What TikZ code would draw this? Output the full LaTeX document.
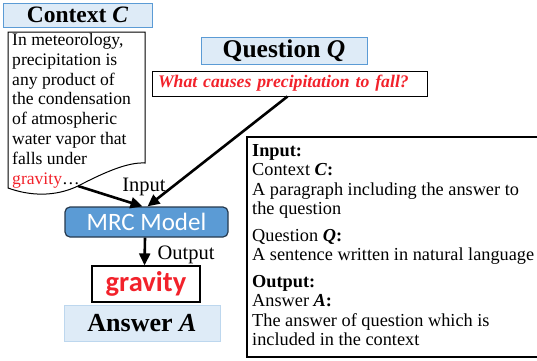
\documentclass[tikz,border=0pt]{standalone}
\usepackage{fontspec}
\setmainfont{Liberation Serif}
\newfontfamily\calibri{Carlito}
\usepackage{xcolor}
\usetikzlibrary{calc, positioning, arrows.meta}
\definecolor{PaleBlue}{HTML}{DEEBF7}
\definecolor{EdgeBlue}{HTML}{5B9BD5}
\definecolor{SoftEdge}{HTML}{BDD7EE}
\definecolor{ModelBlue}{HTML}{5B9BD5}
\definecolor{ModelEdge}{HTML}{26394D}
\definecolor{HotRed}{HTML}{F2222B}

\begin{document}
\begin{tikzpicture}[x=1pt, y=-1pt,
      title/.style={draw=EdgeBlue, fill=PaleBlue, line width=0.9pt, inner sep=0pt,
                    font=\fontsize{23.5}{25}\selectfont\bfseries},
      flow/.style={-{Triangle[length=12pt, width=11pt]}, line width=2.6pt, black},
      lbl/.style={font=\fontsize{20.5}{22}\selectfont, inner sep=0pt}]
      \useasboundingbox (0,0) rectangle (537,360);
      % Context
      \node[title, minimum width=149, minimum height=24] (ctxtitle) at (77.5,15) {Context \textit{C}};
      \draw[line width=1pt] (8,32) -- (145,32) -- (145,163)
            .. controls (128,162) and (105,172) .. (78,186)
            .. controls (55,197) and (30,196) .. (8,188) -- cycle;
      \node[anchor=north west, align=left, inner sep=0pt,
            font=\fontsize{17.6}{19.8}\selectfont] (ctxtext) at (12,33)
            {In meteorology,\\precipitation is\\any product of\\the condensation\\of atmospheric\\water vapor that\\falls under\\\textcolor{HotRed}{gravity}\dots};
      \coordinate (ctxend) at (78,186);
      % Question
      \node[title, minimum width=166, minimum height=27,
            font=\fontsize{25.5}{27}\selectfont\bfseries] (qtitle) at (284,50.5) {Question \textit{Q}};
      \node[draw, line width=0.9pt, text width=263, align=left, minimum height=25,
            inner xsep=6, inner ysep=0pt, text=HotRed,
            font=\fontsize{17.7}{19}\selectfont\bfseries\itshape] (qtext) at (289.5,83.5)
            {What causes precipitation to fall?};
      % Model and answer
      \node[draw=ModelEdge, fill=ModelBlue, line width=1.2pt, rounded corners=5pt,
            minimum width=163, minimum height=30, inner sep=0pt, text=white,
            font=\fontsize{25}{26}\selectfont\calibri] (mrc) at (146.5,222) {MRC Model};
      \node[draw, line width=1.2pt, minimum width=108, minimum height=36, inner sep=0pt,
            text=HotRed, font=\fontsize{28.5}{30}\selectfont\calibri\bfseries] (answord) at (146,284) {gravity};
      \node[draw=SoftEdge, fill=PaleBlue, line width=0.9pt, minimum width=156, minimum height=36,
            inner sep=0pt, font=\fontsize{26}{28}\selectfont\bfseries] (anstitle) at (142,323) {Answer \textit{A}};
      % Arrows
      \draw[flow] (ctxend) -- ([xshift=-4]mrc.north);
      \draw[flow] ([xshift=-2]qtext.south) -- ([xshift=1]mrc.north);
      \draw[flow] ([xshift=-1.5]mrc.south) -- ([xshift=-1.5]answord.north);
      \node[lbl] (inlbl) at (144,187) {Input};
      \node[lbl] (outlbl) at (186,255) {Output};
      % Task description
      \draw[line width=1.8pt] (547,137) -- (247,137) -- (247,357) -- (547,357);
      \node[anchor=north west, align=left, inner sep=0pt,
            font=\fontsize{18.3}{19.5}\selectfont] (task) at (252,144)
            {\textbf{Input:}\\Context \textbf{\textit{C}}\textbf{:}\\A paragraph including the answer to\\the question\\[7pt]
             Question \textbf{\textit{Q}}\textbf{:}\\A sentence written in natural language\\[7pt]
             \textbf{Output:}\\Answer \textbf{\textit{A}}\textbf{:}\\The answer of question which is\\included in the context};
\end{tikzpicture}
\end{document}
